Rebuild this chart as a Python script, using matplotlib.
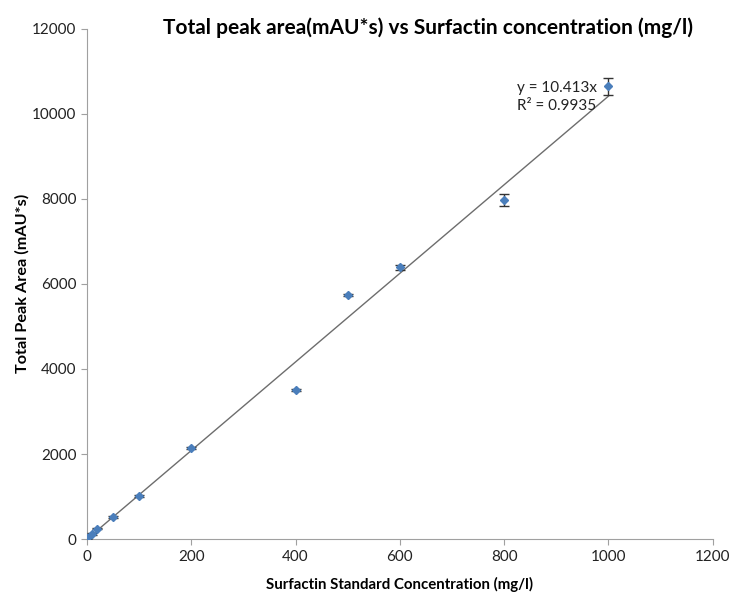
import numpy as np
import matplotlib.pyplot as plt

conc = [0, 10, 20, 50, 100, 200, 400, 500, 600, 800, 1000]
area = [15, 120, 242, 517, 1018, 2151, 3503, 5734, 6390, 7974, 10650]
err = [15, 15, 15, 20, 25, 25, 30, 30, 60, 140, 200]
slope = 10.413
r2 = 0.9935

xticks = [0, 200, 400, 600, 800, 1000, 1200]
yticks = [0, 2000, 4000, 6000, 8000, 10000, 12000]

plt.rcParams['font.family'] = ['Lato', 'DejaVu Sans']

fig = plt.figure(figsize=(7.31, 5.97), dpi=100)
ax = fig.add_axes([0.119, 0.097, 0.856, 0.855])

fit_x = np.array([0, 1000])
ax.plot(fit_x, slope * fit_x, color='#6d6d6d', lw=1.0, zorder=1)
ax.errorbar(conc, area, yerr=err, fmt='D', ms=4, color='#4a7ebb',
            ecolor='#333333', elinewidth=1, capsize=3.5, capthick=1, zorder=3)

ax.text(1000 - 176, 10413 - 20, f'y = {slope}x\nR² = {r2}', fontsize=11,
        color='#222222', linespacing=1.3, va='center')

ax.set_xlim(0, 1200)
ax.set_ylim(0, 12000)
ax.set_xticks(xticks)
ax.set_yticks(yticks)
for s in ['top', 'right']:
    ax.spines[s].set_visible(False)
for s in ['left', 'bottom']:
    ax.spines[s].set_color('#a0a0a0')
ax.tick_params(colors='#a0a0a0', labelcolor='#222222', labelsize=11, length=4)

ax.set_xlabel('Surfactin Standard Concentration (mg/l)', fontsize=10.8,
              fontweight='bold', labelpad=10)
ax.set_ylabel('Total Peak Area (mAU*s)', fontsize=11.7, fontweight='bold',
              labelpad=2)
fig.text(0.585, 0.953, 'Total peak area(mAU*s) vs Surfactin concentration (mg/l)',
         fontsize=15, fontweight='bold', ha='center', va='center')

fig.savefig('out.png', dpi=100)
